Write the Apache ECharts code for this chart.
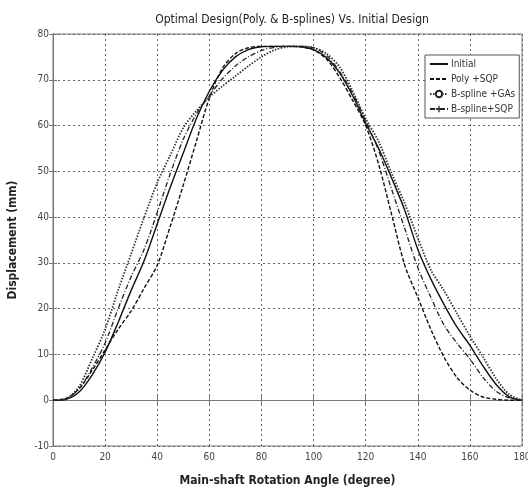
<!DOCTYPE html>
<html>
<head>
<meta charset="utf-8">
<script src="https://cdn.jsdelivr.net/npm/echarts@6/dist/echarts.min.js"></script>
<style>
  html, body { margin: 0; padding: 0; background: #fff; }
  #chart { width: 528px; height: 494px; }
</style>
</head>
<body>
<div id="chart"></div>
<script>
// Rotation angle (degree)
const angles = [0, 5, 10, 15, 20, 25, 30, 35, 40, 45, 50, 55, 60, 65, 70, 75, 80, 85, 90,
    95, 100, 105, 110, 115, 120, 125, 130, 135, 140, 145, 150, 155, 160, 165, 170, 175, 180];

// Displacement (mm)
const initial = [0, 0.2, 1.8, 5.5, 10.5, 17, 24, 30.5, 38.5, 46.5, 54, 61.5, 67.5, 72, 75, 76.6, 77.2, 77.3, 77.3,
    77.2, 76.6, 74.8, 71.5, 66.5, 60.5, 55, 48.5, 41.5, 33, 26.5, 21, 16, 12, 7.5, 3.5, 0.8, 0];
const polySQP = [0, 0.4, 2.5, 6.5, 11, 15.5, 19.5, 24.5, 29.5, 38, 47, 56.5, 66, 72.5, 75.7, 77, 77.3, 77.3, 77.3,
    77.2, 76.5, 74.5, 70.5, 65.5, 60, 51.5, 40.5, 29.5, 22.5, 15.5, 9.5, 5, 2.2, 0.7, 0.2, 0, 0];
const splineGA = [0, 0.3, 3, 9, 15.5, 24, 32, 40, 47.5, 53.5, 59.5, 63.2, 66.2, 68.6, 70.8, 73, 75, 76.5, 77.2,
    77.3, 77, 75.7, 72.8, 67.5, 61.5, 56.5, 49.5, 43, 35.5, 28.5, 24, 19, 14, 9.5, 4.8, 1.3, 0];
const splineSQP = [0, 0.3, 2.5, 7, 12.5, 20, 27, 33, 41, 49.5, 57, 62.5, 66.5, 70.2, 73, 75, 76.4, 77.1, 77.3,
    77.3, 77, 75.3, 71.8, 67, 61, 54.5, 46, 37.5, 29, 22.5, 16.5, 12.5, 9, 5, 2, 0.5, 0];

const names = ['Initial', 'Poly +SQP', 'B-spline +GAs', 'B-spline+SQP'];

const narrow = "'Liberation Sans Narrow', 'DejaVu Sans Condensed', 'Liberation Sans', sans-serif";
const pair = arr => angles.map((a, i) => [a, arr[i]]);
const plus = 'path://M4,0H6V4H10V6H6V10H4V6H0V4H4Z';

const chart = echarts.init(document.getElementById('chart'));

const baseLine = {
    type: 'line',
    smooth: 0.3,
    showSymbol: false,
    symbol: 'none',
    silent: true,
    animation: false,
    xAxisIndex: 0,
    yAxisIndex: 0,
};

const option = {
    backgroundColor: '#fff',
    animation: false,
    title: {
        text: 'Optimal Design(Poly. & B-splines) Vs. Initial Design',
        left: 287,
        top: 9,
        textAlign: 'center',
        textStyle: { fontFamily: narrow, fontSize: 12, fontWeight: 'normal', color: '#222' },
    },
    grid: {
        left: 53, right: 6, top: 34, bottom: 48,
        outerBoundsMode: 'none',
        containLabel: false,
        show: true, borderColor: '#777', borderWidth: 1,
    },
    legend: {
        orient: 'vertical',
        left: 425,
        top: 55,
        width: 92,
        backgroundColor: '#fff',
        borderColor: '#555',
        borderWidth: 1,
        borderRadius: 0,
        padding: [4, 4, 4, 4],
        itemGap: 5,
        itemWidth: 18,
        itemHeight: 8,
        textStyle: { fontFamily: narrow, fontSize: 10, color: '#333', padding: [0, 0, 0, -2] },
        data: [
            { name: names[0], itemStyle: { opacity: 0 } },
            { name: names[1], itemStyle: { opacity: 0 } },
            { name: names[2] },
            { name: names[3] },
        ],
    },
    xAxis: [{
        type: 'value',
        min: 0, max: 180, interval: 20,
        name: 'Main-shaft Rotation Angle (degree)',
        nameLocation: 'middle',
        nameGap: 29,
        nameTextStyle: { fontFamily: narrow, fontSize: 12, fontWeight: 'bold', color: '#222' },
        axisLine: { show: true, lineStyle: { color: '#777' } },
        axisTick: { show: true, inside: true, length: 4, lineStyle: { color: '#777' } },
        axisLabel: { fontFamily: narrow, fontSize: 10, color: '#444', margin: 6 },
        splitLine: { show: true, lineStyle: { color: '#666', type: [2, 3], width: 1 } },
    }, {
        type: 'value', position: 'top',
        min: 0, max: 180, interval: 20,
        axisLine: { show: true, lineStyle: { color: '#777' } },
        axisTick: { show: true, inside: true, length: 4, lineStyle: { color: '#777' } },
        axisLabel: { show: false },
        splitLine: { show: false },
    }],
    yAxis: [{
        type: 'value',
        min: -10, max: 80, interval: 10,
        name: 'Displacement (mm)',
        nameLocation: 'middle',
        nameGap: 34,
        nameTextStyle: { fontFamily: narrow, fontSize: 12, fontWeight: 'bold', color: '#222' },
        axisLine: { show: true, lineStyle: { color: '#777' } },
        axisTick: { show: true, inside: true, length: 4, lineStyle: { color: '#777' } },
        axisLabel: { fontFamily: narrow, fontSize: 10, color: '#444', margin: 4 },
        splitLine: { show: true, lineStyle: { color: '#666', type: [2, 3], width: 1 } },
    }, {
        type: 'value', position: 'right',
        min: -10, max: 80, interval: 10,
        axisLine: { show: true, lineStyle: { color: '#777' } },
        axisTick: { show: true, inside: true, length: 4, lineStyle: { color: '#777' } },
        axisLabel: { show: false },
        splitLine: { show: false },
    }],
    series: [
        Object.assign({}, baseLine, {
            name: names[0],
            data: pair(initial),
            color: '#111',
            lineStyle: { color: '#111', width: 1.4 },
        }),
        Object.assign({}, baseLine, {
            name: names[1],
            data: pair(polySQP),
            color: '#111',
            lineStyle: { color: '#111', width: 1.4, type: [4, 2] },
        }),
        Object.assign({}, baseLine, {
            name: names[2],
            data: pair(splineGA),
            color: '#222',
            symbol: 'emptyCircle',
            symbolSize: 4,
            showSymbol: false,
            lineStyle: { color: '#333', width: 1.8, type: [1.5, 1.5] },
        }),
        Object.assign({}, baseLine, {
            name: names[3],
            data: pair(splineSQP),
            color: '#222',
            symbol: plus,
            symbolSize: 6,
            showSymbol: false,
            lineStyle: { color: '#222', width: 1.3, type: [5, 2, 1, 2] },
        }),
    ],
};

chart.setOption(option);
</script>
</body>
</html>
